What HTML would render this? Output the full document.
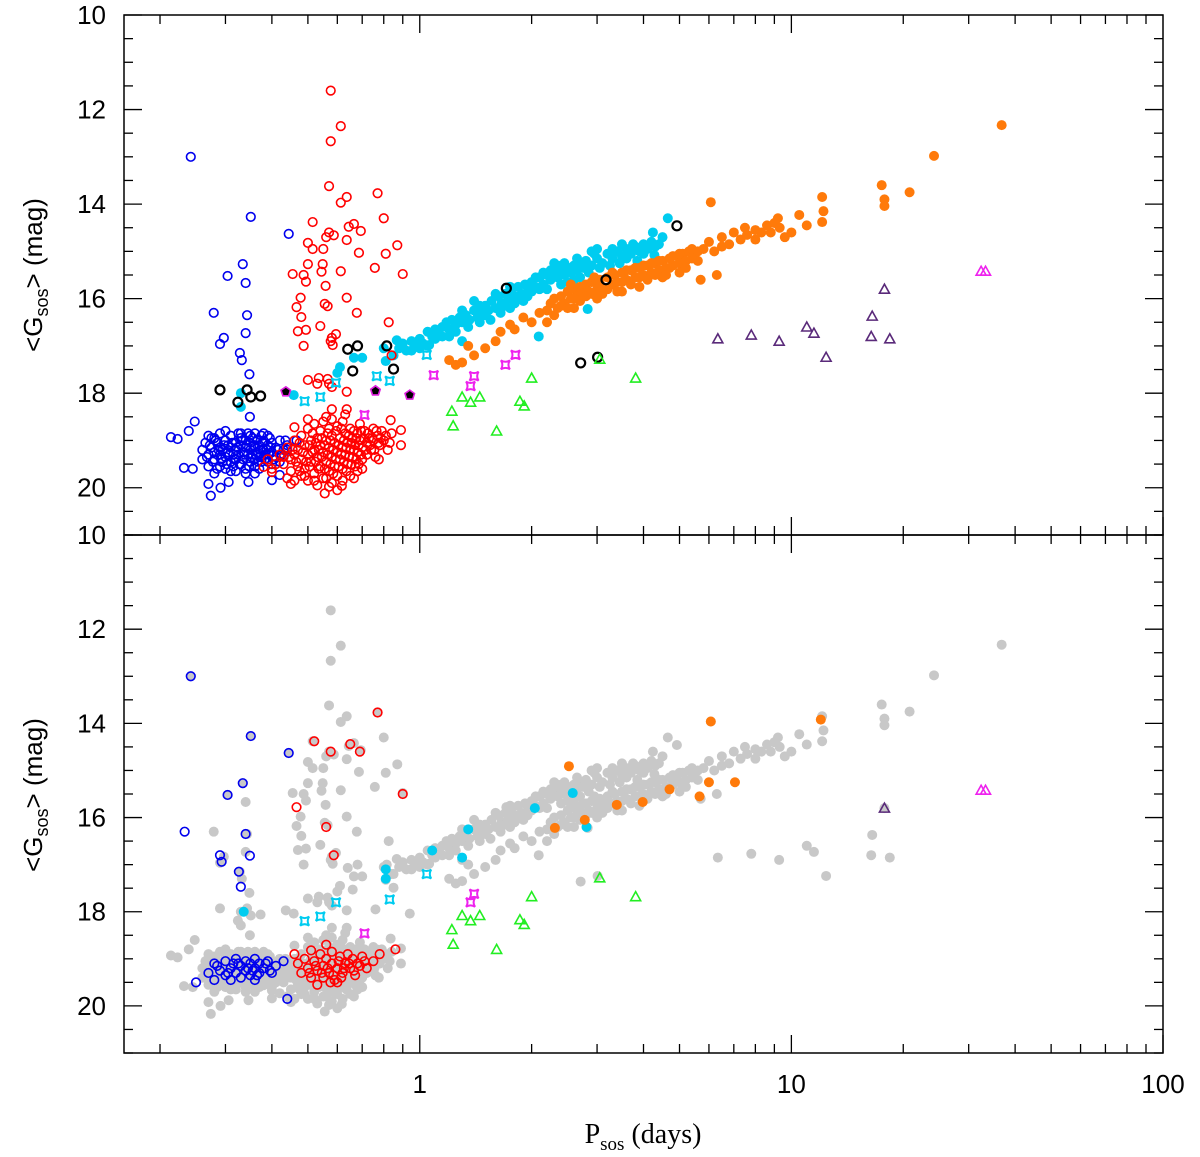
<!DOCTYPE html>
<html><head><meta charset="utf-8"><style>
html,body{margin:0;padding:0;background:#fff;}
svg{display:block;font-family:"Liberation Sans",sans-serif;}
</style></head><body>
<svg id="chart" width="1200" height="1157" viewBox="0 0 1200 1157" xmlns="http://www.w3.org/2000/svg">
<g id="axes"></g>
<g id="top-panel"></g>
<g id="bottom-panel"></g>
<text transform="translate(42,275) rotate(-90)" text-anchor="middle" font-size="26">&lt;G<tspan font-size="18" dy="6">sos</tspan><tspan dy="-6">&gt; (mag)</tspan></text>
<text transform="translate(42,795) rotate(-90)" text-anchor="middle" font-size="26">&lt;G<tspan font-size="18" dy="6">sos</tspan><tspan dy="-6">&gt; (mag)</tspan></text>
<text x="643" y="1143" text-anchor="middle" font-size="28" font-family="Liberation Serif, serif">P<tspan font-size="19" dy="7">sos</tspan><tspan dy="-7"> (days)</tspan></text>
</svg>
<script>
const xTickMajors=[1,10,100];
const yTickMajors=[10,12,14,16,18,20];
const blueOut=[[0.242,13.0],[0.351,14.27],[0.444,14.63],[0.334,15.27],[0.304,15.52],[0.34,15.67],[0.279,16.3],[0.343,16.35],[0.297,16.83],[0.29,16.96],[0.34,16.73],[0.328,17.15],[0.332,17.3],[0.348,17.6],[0.349,18.5],[0.248,18.6],[0.239,18.8],[0.214,18.93],[0.223,18.97],[0.274,20.17],[0.291,20.0],[0.27,19.92],[0.232,19.58],[0.245,19.6],[0.306,19.88],[0.346,19.88],[0.40,19.84],[0.42,19.73],[0.44,19.2],[0.466,19.0]];
const blueCore=[[0.26,19.2],[0.26,19.4],[0.265,19.05],[0.27,19.3],[0.27,19.55],[0.275,19.15],[0.275,18.95],[0.28,19.4],[0.28,19.25],[0.285,19.6],[0.285,19.05],[0.29,19.3],[0.29,19.15],[0.29,18.85],[0.295,19.45],[0.295,19.2],[0.30,19.0],[0.30,19.35],[0.30,19.6],[0.305,19.1],[0.305,19.25],[0.31,19.45],[0.31,18.9],[0.31,19.15],[0.315,19.3],[0.315,19.55],[0.32,19.05],[0.32,19.2],[0.32,19.4],[0.325,18.85],[0.325,19.3],[0.33,19.1],[0.33,19.5],[0.33,18.95],[0.335,19.25],[0.335,19.4],[0.34,19.0],[0.34,19.15],[0.34,19.6],[0.345,19.3],[0.345,18.85],[0.35,19.2],[0.35,19.45],[0.35,19.05],[0.355,19.3],[0.355,18.95],[0.36,19.15],[0.36,19.4],[0.36,19.55],[0.365,19.0],[0.365,19.25],[0.37,19.35],[0.37,19.1],[0.375,18.9],[0.375,19.45],[0.38,19.2],[0.38,19.0],[0.385,19.3],[0.39,19.1],[0.39,19.45],[0.395,18.95],[0.40,19.25],[0.40,19.05],[0.41,19.15],[0.41,19.35],[0.42,19.0],[0.43,19.2],[0.44,19.1],[0.30,18.8],[0.28,19.7],[0.32,19.65],[0.36,19.7],[0.40,19.5],[0.27,18.9],[0.38,18.85],[0.42,19.45]];
const blueCore2=[[0.2675,19.35],[0.2725,19.1],[0.2775,19.45],[0.2825,19.0],[0.2875,19.2],[0.2925,19.4],[0.2975,19.1],[0.3025,19.5],[0.3075,19.3],[0.3125,19.05],[0.3175,19.4],[0.3225,19.15],[0.3275,19.5],[0.3325,19.0],[0.3375,19.3],[0.3425,19.1],[0.3475,19.55],[0.3525,19.35],[0.3575,19.1],[0.3625,19.3],[0.3675,19.45],[0.3725,19.2],[0.3775,19.05],[0.3825,19.4],[0.3875,19.2],[0.3925,19.3],[0.3975,19.15],[0.405,19.4],[0.415,19.2],[0.425,19.3],[0.435,19.0],[0.29,19.55],[0.31,19.65],[0.34,19.7],[0.37,19.6],[0.33,18.85],[0.35,18.9],[0.36,18.85],[0.28,18.95],[0.39,18.9]];
const redOut=[[0.576,11.6],[0.613,12.35],[0.576,12.67],[0.57,13.62],[0.636,13.85],[0.613,13.97],[0.77,13.77],[0.80,14.3],[0.515,14.38],[0.57,14.6],[0.587,14.66],[0.56,14.7],[0.644,14.48],[0.665,14.42],[0.694,14.57],[0.636,14.76],[0.50,14.82],[0.515,14.95],[0.55,14.95],[0.686,15.03],[0.81,15.05],[0.87,14.87],[0.50,15.27],[0.548,15.27],[0.455,15.48],[0.487,15.5],[0.494,15.64],[0.544,15.43],[0.613,15.42],[0.757,15.35],[0.90,15.48],[0.558,15.73],[0.478,15.98],[0.466,16.18],[0.555,16.11],[0.565,16.16],[0.636,15.98],[0.677,16.3],[0.48,16.39],[0.54,16.58],[0.47,16.69],[0.494,16.66],[0.595,16.75],[0.58,16.83],[0.576,16.9],[0.583,16.98],[0.487,17.0],[0.825,16.5],[0.84,17.2],[0.50,17.72],[0.535,17.68],[0.53,17.8],[0.565,17.7],[0.57,17.8],[0.58,17.87],[0.636,17.97],[0.45,19.92],[0.555,20.12],[0.57,19.98],[0.617,19.96],[0.665,19.8],[0.776,19.4],[0.89,19.1],[0.89,18.78],[0.835,18.57],[0.58,18.34],[0.636,18.34],[0.46,18.72],[0.38,19.56],[0.40,19.67]];
const redCore=[[0.42,19.3],[0.43,19.5],[0.44,19.15],[0.45,19.4],[0.45,19.65],[0.46,19.0],[0.46,19.3],[0.47,19.55],[0.47,19.2],[0.48,19.75],[0.48,18.9],[0.48,19.4],[0.49,19.1],[0.49,19.6],[0.50,19.3],[0.50,18.75],[0.50,19.85],[0.51,19.0],[0.51,19.45],[0.52,19.2],[0.52,19.7],[0.52,18.65],[0.53,19.35],[0.53,18.95],[0.54,19.55],[0.54,19.1],[0.54,18.8],[0.55,19.25],[0.55,19.8],[0.55,18.6],[0.56,19.0],[0.56,19.45],[0.57,19.65],[0.57,19.15],[0.57,18.75],[0.58,19.35],[0.58,18.9],[0.58,19.9],[0.59,19.05],[0.59,19.55],[0.60,19.25],[0.60,18.7],[0.60,19.75],[0.61,18.95],[0.61,19.4],[0.62,19.15],[0.62,19.6],[0.62,18.6],[0.63,19.3],[0.63,18.85],[0.64,19.05],[0.64,19.5],[0.65,19.2],[0.65,18.75],[0.66,19.35],[0.66,18.95],[0.67,19.1],[0.67,19.55],[0.68,18.85],[0.68,19.25],[0.69,19.0],[0.69,18.65],[0.70,19.15],[0.70,19.4],[0.71,18.8],[0.72,19.05],[0.72,19.3],[0.73,18.95],[0.74,19.2],[0.75,18.75],[0.75,19.0],[0.76,19.35],[0.77,18.9],[0.78,19.1],[0.79,18.8],[0.80,19.0],[0.82,19.2],[0.84,18.85],[0.44,19.8],[0.46,19.85],[0.53,19.95],[0.6,20.05],[0.65,19.75],[0.7,19.6],[0.39,19.4],[0.40,19.6],[0.56,18.5],[0.63,18.45],[0.5,18.55],[0.58,18.55]];
const redCore2=[[0.445,19.35],[0.455,19.2],[0.465,19.45],[0.475,19.05],[0.485,19.25],[0.495,19.45],[0.505,19.1],[0.505,19.55],[0.515,19.25],[0.515,18.85],[0.525,19.45],[0.525,19.05],[0.535,19.6],[0.535,19.2],[0.545,19.35],[0.545,18.95],[0.555,19.6],[0.555,19.1],[0.565,19.3],[0.565,18.85],[0.575,19.5],[0.575,19.0],[0.585,19.2],[0.585,19.7],[0.595,19.4],[0.595,18.8],[0.605,19.1],[0.605,19.55],[0.615,19.3],[0.615,18.75],[0.625,19.0],[0.625,19.45],[0.635,19.15],[0.635,19.65],[0.645,18.9],[0.645,19.35],[0.655,19.05],[0.655,19.5],[0.665,19.2],[0.665,18.8],[0.675,19.4],[0.675,18.95],[0.685,19.1],[0.685,19.5],[0.695,19.3],[0.695,18.8],[0.705,18.95],[0.715,19.2],[0.725,18.85],[0.735,19.1],[0.745,18.95],[0.755,19.2],[0.765,18.8],[0.775,19.05],[0.785,18.95],[0.81,18.9],[0.83,19.05],[0.49,19.75],[0.52,19.85],[0.56,19.8],[0.62,19.85],[0.68,19.65],[0.475,19.65],[0.43,19.35],[0.41,19.5]];
const cyanPts=[[0.85,17.2],[0.88,17.05],[0.9,16.95],[0.92,17.1],[0.95,16.9],[0.97,17.0],[1.0,16.85],[1.02,16.95],[1.05,16.7],[1.08,16.8],[1.1,16.65],[1.12,16.75],[1.15,16.6],[1.18,16.5],[1.2,16.65],[1.22,16.45],[1.25,16.55],[1.28,16.4],[1.3,16.5],[1.33,16.35],[1.36,16.45],[1.4,16.25],[1.43,16.4],[1.46,16.3],[1.5,16.15],[1.53,16.25],[1.56,16.05],[1.6,16.2],[1.63,15.95],[1.66,16.1],[1.7,15.9],[1.73,16.0],[1.76,15.85],[1.8,15.95],[1.84,15.75],[1.88,15.9],[1.92,15.7],[1.96,15.8],[2.0,15.65],[2.05,15.75],[2.1,15.55],[2.15,15.7],[2.2,15.5],[2.25,15.6],[2.3,15.45],[2.35,15.55],[2.4,15.4],[2.45,15.5],[2.5,15.35],[2.55,15.45],[2.6,15.3],[2.65,15.4],[2.7,15.25],[2.75,15.35],[2.8,15.2],[2.9,15.3],[3.0,15.15],[3.1,15.25],[3.2,15.05],[3.3,15.15],[3.4,15.0],[3.5,15.1],[3.6,14.95],[3.7,15.05],[3.8,14.9],[3.9,15.0],[4.0,14.85],[4.1,14.95],[4.24,14.6],[4.28,15.08],[4.5,14.7],[4.65,14.3],[1.9,16.05],[2.2,15.8],[2.5,15.65],[1.45,16.5],[1.2,16.8],[2.09,16.8],[2.83,16.22],[1.3,16.9],[1.06,16.98],[0.81,17.32],[0.6,17.57],[0.61,17.45],[0.665,17.25],[0.7,17.25],[0.8,17.05],[0.867,16.88],[1.05,17.0],[0.458,18.04],[0.33,18.0],[0.33,18.29],[1.75,16.2],[2.3,15.25],[3.0,14.95],[3.5,14.85],[2.7,15.55],[1.6,15.9],[1.4,16.05]];
const cyanPts2=[[0.95,17.1],[1.0,17.05],[1.1,16.85],[1.15,16.8],[1.25,16.7],[1.35,16.6],[1.5,16.35],[1.55,16.45],[1.65,16.3],[1.7,16.15],[1.8,16.1],[1.85,16.0],[1.95,15.95],[2.0,15.85],[2.1,15.8],[2.15,15.45],[2.25,15.4],[2.35,15.3],[2.4,15.7],[2.6,15.6],[2.65,15.15],[2.85,15.45],[2.95,15.05],[3.05,15.35],[3.25,15.3],[3.3,14.95],[3.45,15.25],[3.6,15.15],[3.75,14.85],[3.85,15.2],[4.0,15.05],[4.2,14.8],[4.3,14.9],[4.4,14.85],[1.3,16.25],[1.45,16.15],[1.75,15.75],[2.05,15.55],[2.45,15.25],[2.9,15.0]];
const orangePts=[[1.2,17.3],[1.25,17.4],[1.3,17.35],[1.35,17.0],[1.4,17.2],[1.5,17.05],[1.6,16.9],[1.65,16.7],[1.75,16.55],[1.8,16.65],[1.9,16.4],[2.0,16.5],[2.1,16.3],[2.2,16.25],[2.25,16.1],[2.3,16.0],[2.35,16.2],[2.4,15.95],[2.45,16.1],[2.5,15.85],[2.55,16.0],[2.6,15.8],[2.65,15.95],[2.7,15.75],[2.75,15.9],[2.8,15.7],[2.85,15.85],[2.9,15.65],[3.0,15.8],[3.05,15.6],[3.1,15.75],[3.2,15.55],[3.3,15.7],[3.35,15.5],[3.4,15.65],[3.5,15.45],[3.6,15.6],[3.7,15.4],[3.8,15.55],[3.9,15.35],[4.0,15.5],[4.1,15.3],[4.2,15.45],[4.3,15.25],[4.4,15.4],[4.5,15.2],[4.6,15.35],[4.7,15.15],[4.8,15.3],[4.9,15.1],[5.0,15.25],[5.1,15.05],[5.2,15.2],[5.3,15.0],[5.4,15.15],[5.5,15.05],[5.6,15.2],[5.8,14.95],[6.0,14.8],[6.2,15.0],[6.5,14.7],[6.8,14.85],[7.0,14.6],[7.3,14.75],[7.6,14.65],[8.0,14.55],[8.3,14.6],[8.6,14.45],[9.0,14.4],[9.3,14.5],[9.6,14.7],[10.0,14.6],[10.5,14.23],[11.0,14.45],[12.1,13.85],[12.2,14.15],[12.1,14.38],[6.07,13.96],[17.5,13.6],[17.8,13.9],[17.8,14.04],[20.8,13.75],[24.2,12.98],[36.8,12.33],[3.0,16.0],[2.6,16.2],[3.5,15.85],[4.5,15.55],[5.0,15.45],[3.9,15.75],[2.2,16.5],[6.3,15.5],[5.7,15.6]];
const orangePts2=[[2.4,16.15],[2.5,16.2],[2.6,16.0],[2.7,16.05],[2.8,15.95],[2.9,15.9],[3.0,15.6],[3.1,15.9],[3.2,15.8],[3.3,15.45],[3.4,15.85],[3.5,15.65],[3.6,15.4],[3.7,15.7],[3.8,15.35],[3.9,15.55],[4.0,15.3],[4.1,15.6],[4.2,15.25],[4.3,15.5],[4.4,15.2],[4.6,15.5],[4.7,15.35],[4.8,15.1],[5.0,15.05],[5.2,15.35],[5.4,14.95],[5.6,15.0],[6.5,14.9],[7.5,14.5],[8.0,14.75],[8.8,14.6],[9.2,14.3],[2.3,16.35],[2.55,15.7],[2.95,15.55]];
const blackCirc=[[0.29,17.93],[0.343,17.93],[0.351,18.08],[0.373,18.06],[0.324,18.19],[0.64,17.07],[0.68,17.0],[0.66,17.53],[0.815,17.0],[0.85,17.49],[1.71,15.78],[3.17,15.6],[4.92,14.46],[2.71,17.36],[3.01,17.24]];
const pentPts=[[0.436,17.97],[0.76,17.95],[0.94,18.04]];
const cyanStars=[[0.595,17.78],[0.49,18.17],[0.54,18.08],[0.766,17.64],[0.83,17.74],[1.044,17.19]];
const magStars=[[0.71,18.46],[1.09,17.62],[1.40,17.64],[1.37,17.85],[1.70,17.4],[1.81,17.19]];
const greenTri=[[1.30,18.08],[1.37,18.19],[1.45,18.08],[1.22,18.38],[1.23,18.69],[1.61,18.8],[1.86,18.17],[1.91,18.27],[2.0,17.68],[3.05,17.28],[3.81,17.68]];
const purpleTri=[[6.34,16.85],[7.8,16.77],[9.27,16.9],[11.0,16.6],[11.5,16.73],[12.4,17.24],[16.5,16.37],[17.8,15.8],[16.4,16.8],[18.4,16.85]];
const magTri=[[32.4,15.42],[33.3,15.42]];
const blueBot=[[0.242,13.0],[0.351,14.27],[0.444,14.63],[0.334,15.27],[0.304,15.52],[0.233,16.3],[0.34,16.35],[0.29,16.8],[0.293,16.94],[0.326,17.15],[0.33,17.47],[0.349,16.81],[0.25,19.5],[0.27,19.3],[0.28,19.1],[0.29,19.25],[0.30,19.05],[0.30,19.35],[0.31,19.2],[0.32,19.0],[0.32,19.3],[0.33,19.15],[0.33,19.4],[0.34,19.05],[0.34,19.25],[0.35,19.1],[0.35,19.35],[0.36,19.2],[0.36,19.0],[0.37,19.3],[0.37,19.1],[0.38,19.2],[0.39,19.05],[0.40,19.3],[0.41,19.15],[0.43,19.05],[0.31,19.45],[0.36,19.45],[0.44,19.85],[0.28,19.45],[0.285,19.15],[0.305,19.3],[0.325,19.1],[0.345,19.2],[0.365,19.35],[0.385,19.1],[0.395,19.25],[0.315,19.1],[0.355,19.25]];
const redBot=[[0.52,14.38],[0.576,14.6],[0.65,14.44],[0.69,14.6],[0.77,13.77],[0.9,15.5],[0.466,15.78],[0.56,16.2],[0.587,16.8],[0.51,18.82],[0.46,18.9],[0.47,19.1],[0.48,19.3],[0.49,19.0],[0.50,19.2],[0.51,19.4],[0.52,19.05],[0.53,19.25],[0.54,18.9],[0.55,19.15],[0.55,19.4],[0.56,19.0],[0.57,19.3],[0.58,18.85],[0.58,19.1],[0.59,19.45],[0.60,19.2],[0.61,18.95],[0.62,19.3],[0.63,19.1],[0.64,18.9],[0.65,19.2],[0.66,19.0],[0.67,19.35],[0.68,19.1],[0.70,18.95],[0.72,19.2],[0.75,19.05],[0.78,18.9],[0.86,18.8],[0.53,19.55],[0.6,19.5],[0.56,18.7],[0.505,19.3],[0.525,19.15],[0.545,19.3],[0.565,19.2],[0.585,19.35],[0.605,19.05],[0.625,19.2],[0.645,19.1],[0.665,19.25],[0.69,19.15],[0.71,19.05],[0.575,19.5],[0.615,19.4]];
const cyanBot=[[0.336,18.0],[0.81,17.1],[0.81,17.3],[1.08,16.7],[1.35,16.25],[1.3,16.85],[2.04,15.8],[2.58,15.48],[2.81,16.2]];
const orangeBot=[[6.07,13.96],[12.0,13.92],[2.52,14.91],[2.31,16.22],[2.78,16.05],[3.39,15.73],[3.98,15.67],[4.7,15.4],[5.66,15.55],[6.0,15.25],[7.05,15.25]];
const cyanStarsBot=[[0.49,18.2],[0.54,18.1],[0.595,17.8],[0.83,17.74],[1.044,17.2]];
const magStarsBot=[[0.71,18.46],[1.4,17.62],[1.37,17.8]];
const purpleBot=[[17.8,15.8]];

const NS="http://www.w3.org/2000/svg";
const L=124,R=1163,P1T=15,P1B=535,P2T=535,P2B=1053;
const xMin=Math.log10(0.16),xMax=2;
function xs(p){return L+(Math.log10(p)-xMin)/(xMax-xMin)*(R-L);}
function ysTop(g){return P1T+(g-10)/11*(P1B-P1T);}
function ysBot(g){return P2T+(g-10)/11*(P2B-P2T);}
function mk(tag,attrs,parent){const e=document.createElementNS(NS,tag);for(const k in attrs)e.setAttribute(k,attrs[k]);parent.appendChild(e);return e;}

const axes=document.getElementById('axes');
function panelAxes(top,bot,ys,label){
  const fr=mk('rect',{x:L,y:top,width:R-L,height:bot-top,fill:'none',stroke:'#000','stroke-width':1.5},axes);
  
  
  for(let d=-1;d<2;d++){for(let m=1;m<10;m++){const p=m*Math.pow(10,d);if(p<0.16||p>100)continue;const x=xs(p);const len=(m===1)?18:9;
    mk('line',{x1:x,y1:bot,x2:x,y2:bot-len,stroke:'#000','stroke-width':1.3},axes);
    mk('line',{x1:x,y1:top,x2:x,y2:top+len,stroke:'#000','stroke-width':1.3},axes);}}
  const x100=xs(100);mk('line',{x1:x100,y1:bot,x2:x100,y2:bot-18,stroke:'#000','stroke-width':1.3},axes);
  for(let g=10;g<=21.001;g+=0.5){const y=ys(g);const major=Math.abs(g%2)<0.01;const len=major?18:9;
    mk('line',{x1:L,y1:y,x2:L+len,y2:y,stroke:'#000','stroke-width':1.3},axes);
    mk('line',{x1:R,y1:y,x2:R-len,y2:y,stroke:'#000','stroke-width':1.3},axes);}
  yTickMajors.forEach(g=>{const t=mk('text',{x:106,y:ys(g)+9,'text-anchor':'end','font-size':26},axes);t.textContent=String(g);
    
    });
}
panelAxes(P1T,P1B,ysTop,'top-panel');
panelAxes(P2T,P2B,ysBot,'bottom-panel');
xTickMajors.forEach(p=>{const t=mk('text',{x:xs(p),y:1093,'text-anchor':'middle','font-size':26},axes);t.textContent=String(p);
  
  });

function star(x,y,c,g){const s=4.5,k=1.6;
  const d=`M${x-s},${y-s} Q${x},${y-k} ${x+s},${y-s} Q${x+k},${y} ${x+s},${y+s} Q${x},${y+k} ${x-s},${y+s} Q${x-k},${y} ${x-s},${y-s}Z`;
  return mk('path',{d:d,fill:'none',stroke:c,'stroke-width':2},g);}
function tri(x,y,c,g){return mk('path',{d:`M${x},${y-5} L${x+5},${y+4} L${x-5},${y+4}Z`,fill:'none',stroke:c,'stroke-width':1.6},g);}
function pent(x,y,g){let pts=[];for(let i=0;i<5;i++){const a=-Math.PI/2+i*2*Math.PI/5;pts.push((x+5*Math.cos(a)).toFixed(1)+','+(y+5*Math.sin(a)).toFixed(1));}
  return mk('polygon',{points:pts.join(' '),fill:'#000',stroke:'#e020e0','stroke-width':1.6},g);}

function drawSet(arr,ys,g,type,color,name){
  const grp=mk('g',{},g);
  
  
  arr.forEach(([p,m])=>{const x=xs(p),y=ys(m);let e;
    if(type==='open')e=mk('circle',{cx:x,cy:y,r:4.3,fill:'none',stroke:color,'stroke-width':1.6},grp);
    else if(type==='openbold')e=mk('circle',{cx:x,cy:y,r:4.5,fill:'none',stroke:color,'stroke-width':2.2},grp);
    else if(type==='filled')e=mk('circle',{cx:x,cy:y,r:5,fill:color},grp);
    else if(type==='star')e=star(x,y,color,grp);
    else if(type==='tri')e=tri(x,y,color,grp);
    else if(type==='pent')e=pent(x,y,grp);
    
    });
}
const topG=document.getElementById('top-panel'),botG=document.getElementById('bottom-panel');
const BLUE='#0000ee',RED='#ff0000',CYAN='#00ccf0',ORANGE='#ff7a0a',GREEN='#22ee22',PURPLE='#5a2a7a',MAG='#ee22ee',GREY='#c8c8c8';
drawSet(cyanPts,ysTop,topG,'filled',CYAN,'cyan-series');
drawSet(cyanPts2,ysTop,topG,'filled',CYAN,'cyan-series-extra');
drawSet(orangePts,ysTop,topG,'filled',ORANGE,'orange-series');
drawSet(orangePts2,ysTop,topG,'filled',ORANGE,'orange-series-extra');
drawSet(blueCore,ysTop,topG,'open',BLUE,'blue-cluster');
drawSet(blueCore2,ysTop,topG,'open',BLUE,'blue-cluster-extra');
drawSet(blueOut,ysTop,topG,'open',BLUE,'blue-outliers');
drawSet(redCore,ysTop,topG,'open',RED,'red-cluster');
drawSet(redCore2,ysTop,topG,'open',RED,'red-cluster-extra');
drawSet(redOut,ysTop,topG,'open',RED,'red-outliers');
drawSet(blackCirc,ysTop,topG,'openbold','#000','black-circles');
drawSet(pentPts,ysTop,topG,'pent','#000','pentagons');
drawSet(cyanStars,ysTop,topG,'star',CYAN,'cyan-stars');
drawSet(magStars,ysTop,topG,'star',MAG,'magenta-stars');
drawSet(greenTri,ysTop,topG,'tri',GREEN,'green-triangles');
drawSet(purpleTri,ysTop,topG,'tri',PURPLE,'purple-triangles');
drawSet(magTri,ysTop,topG,'tri',MAG,'magenta-triangles');
[blueCore,blueCore2,blueOut,redCore,redCore2,redOut,cyanPts,cyanPts2,orangePts,orangePts2,blackCirc,pentPts,purpleTri].forEach(a=>drawSet(a,ysBot,botG,'filled',GREY,'grey-all-sample'));
drawSet(blueBot,ysBot,botG,'open',BLUE,'blue-bottom');
drawSet(redBot,ysBot,botG,'open',RED,'red-bottom');
drawSet(cyanBot,ysBot,botG,'filled',CYAN,'cyan-bottom');
drawSet(orangeBot,ysBot,botG,'filled',ORANGE,'orange-bottom');
drawSet(cyanStarsBot,ysBot,botG,'star',CYAN,'cyan-stars-bottom');
drawSet(magStarsBot,ysBot,botG,'star',MAG,'magenta-stars-bottom');
drawSet(greenTri,ysBot,botG,'tri',GREEN,'green-triangles-bottom');
drawSet(purpleBot,ysBot,botG,'tri',PURPLE,'purple-bottom');
drawSet(magTri,ysBot,botG,'tri',MAG,'magenta-triangles-bottom');
</script>
</body></html>
